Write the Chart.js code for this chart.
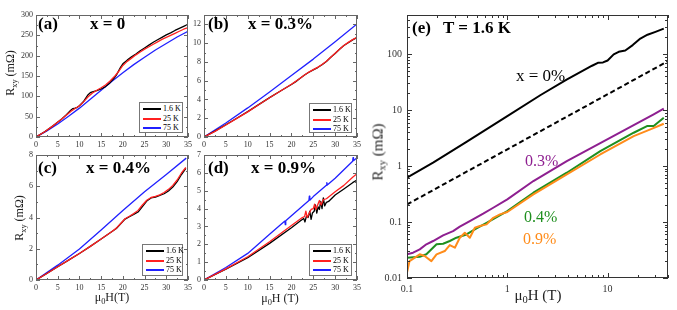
<!DOCTYPE html>
<html>
<head>
<meta charset="utf-8">
<script src="https://cdn.jsdelivr.net/npm/chart.js@4/dist/chart.umd.min.js"></script>
<style>
  body { margin: 0; width: 677px; height: 310px; position: relative; overflow: hidden; background: #fff; font-family: "Liberation Serif", serif; color: #000; }
  canvas { position: absolute; left: 0; top: 0; }
  .t { position: absolute; white-space: nowrap; line-height: 1; }
  .b { font-weight: bold; font-size: 17px; }
  .ax { position: absolute; white-space: nowrap; line-height: 1; transform: translate(-50%, -50%); font-size: 12px; color: #222; }
  .ax.big { font-size: 15px; }
  .rot { transform: translate(-50%, -50%) rotate(-90deg); }
  sub { font-size: 70%; vertical-align: -0.3em; line-height: 0; }
  .lg { position: absolute; border: 1px solid #777; background: #fff; box-sizing: border-box; }
  .lr { position: absolute; left: 3px; font-size: 8px; line-height: 1; white-space: nowrap; transform: translateY(-50%); }
  .lr i { display: inline-block; width: 18px; height: 0; border-top: 2px solid; vertical-align: middle; margin-right: 2px; }
</style>
</head>
<body>
<canvas id="ca" width="677" height="310"></canvas>
<canvas id="cb" width="677" height="310"></canvas>
<canvas id="cc" width="677" height="310"></canvas>
<canvas id="cd" width="677" height="310"></canvas>
<canvas id="ce" width="677" height="310"></canvas>

<div class="t b" style="left:38px;top:15px">(a)</div>
<div class="t b" style="left:90px;top:15px">x = 0</div>
<div class="t b" style="left:208px;top:15px">(b)</div>
<div class="t b" style="left:248px;top:15px">x = 0.3%</div>
<div class="t b" style="left:38px;top:159px">(c)</div>
<div class="t b" style="left:86px;top:159px">x = 0.4%</div>
<div class="t b" style="left:208px;top:159px">(d)</div>
<div class="t b" style="left:251px;top:159px">x = 0.9%</div>
<div class="t b" style="left:412px;top:19px">(e)</div>
<div class="t b" style="left:443px;top:19px">T = 1.6 K</div>

<div class="ax rot" style="left:10px;top:73px">R<sub>xy</sub> (mΩ)</div>
<div class="ax rot" style="left:19px;top:218px">R<sub>xy</sub> (mΩ)</div>
<div class="ax rot big" style="left:378px;top:152px">R<sub>xy</sub> (mΩ)</div>
<div class="ax" style="left:112px;top:297px">μ<sub>0</sub>H(T)</div>
<div class="ax" style="left:280px;top:298px">μ<sub>0</sub>H (T)</div>
<div class="ax big" style="left:538px;top:295px">μ<sub>0</sub>H (T)</div>

<div class="t" style="left:516px;top:67px;font-size:17px">x = 0%</div>
<div class="t" style="left:525px;top:153px;font-size:16px;color:#8e1f90">0.3%</div>
<div class="t" style="left:524px;top:209px;font-size:16px;color:#1f8f1f">0.4%</div>
<div class="t" style="left:523px;top:231px;font-size:16px;color:#ff8c1a">0.9%</div>

<script>
// ---- data ----
const fieldTicks = [0, 5, 10, 15, 20, 25, 30, 35];
const aTicks = [0, 50, 100, 150, 200, 250, 300];
const bTicks = [0, 2, 4, 6, 8, 10, 12];
const cTicks = [0, 2, 4, 6, 8];
const dTicks = [0, 1, 2, 3, 4, 5, 6, 7];
const eFieldTicks = [0.1, 1, 10];
const eRTicks = [0.01, 0.1, 1, 10, 100];

const tempLabels = ['1.6 K', '25 K', '75 K'];
const tempColors = ['#000000', '#ff2020', '#2020ff'];

// (a) x = 0, [field T, Rxy mOhm]
const a16 = [[0,0],[2,13],[4,28],[6,45],[7,55],[8,66],[8.5,70],[9,71],[9.5,73],[10,77],[11,88],[11.5,96],[12,104],[12.5,109],[13,111],[14,114],[15,118],[16,124],[17,133],[18,145],[18.5,152],[19,162],[19.5,172],[20,180],[21,189],[22,197],[23,204],[24,212],[25,219],[26,226],[27,233],[28,239],[29,245],[30,251],[31,256],[32,262],[33,267],[34,272],[35,277]];
const a25 = [[0,0],[2,13],[4,28],[6,45],[8,63],[9,70],[10,77],[11,87],[12,99],[13,108],[14,115],[15,121],[16,128],[17,137],[18,148],[19,161],[20,176],[21,186],[22,194],[23,202],[24,209],[25,216],[26,222],[27,228],[28,234],[29,240],[30,245],[31,250],[32,255],[33,260],[34,265],[35,269]];
const a75 = [[0,0],[2.5,15],[5,32],[7.5,51],[10,71],[12.5,93],[15,115],[17.5,137],[20,158],[22.5,178],[25,196],[27.5,214],[30,230],[32.5,246],[35,260]];

// (b) x = 0.3%
const b16 = [[0,0],[2.5,0.62],[5,1.3],[7.5,2.0],[10,2.7],[12.5,3.45],[15,4.2],[17.5,4.9],[20,5.6],[21,5.9],[22,6.25],[23,6.6],[24,6.9],[25,7.15],[26,7.4],[27,7.7],[28,8.05],[29,8.5],[30,8.9],[31,9.35],[32,9.75],[33,10.05],[34,10.35],[35,10.6]];
const b25 = [[0,0],[2.5,0.6],[5,1.28],[7.5,1.98],[10,2.68],[12.5,3.43],[15,4.18],[17.5,4.9],[20,5.62],[21,5.93],[22,6.27],[23,6.6],[24,6.92],[25,7.18],[26,7.42],[27,7.72],[28,8.08],[29,8.5],[30,8.92],[31,9.35],[32,9.75],[33,10.08],[34,10.38],[35,10.62]];
const b75 = [[0,0],[5,1.5],[10,3.1],[15,4.8],[20,6.55],[25,8.3],[30,10.15],[35,12.05]];

// (c) x = 0.4%
const c16 = [[0,0],[2.5,0.42],[5,0.85],[7.5,1.27],[10,1.7],[12.5,2.15],[15,2.62],[17.5,3.1],[18.5,3.3],[19.5,3.6],[20.5,3.9],[21.5,4.05],[22.5,4.2],[23.5,4.35],[24.5,4.7],[25.5,5.05],[26.5,5.25],[27.5,5.3],[28.5,5.42],[29.5,5.52],[30.5,5.7],[31.5,5.95],[32.5,6.3],[33.5,6.75],[34.5,7.15]];
const c25 = [[0,0],[2.5,0.42],[5,0.85],[7.5,1.27],[10,1.7],[12.5,2.15],[15,2.62],[17.5,3.1],[18.5,3.32],[19.5,3.62],[20.5,3.92],[21.5,4.08],[22.5,4.25],[23.5,4.45],[24.5,4.8],[25.5,5.1],[26.5,5.28],[27.5,5.35],[28.5,5.45],[29.5,5.6],[30.5,5.8],[31.5,6.05],[32.5,6.4],[33.5,6.85],[34.5,7.2]];
const c75 = [[0,0],[5,0.95],[10,1.98],[15,3.2],[20,4.45],[25,5.65],[30,6.75],[34.6,7.8]];

// (d) x = 0.9%
const d16 = [[0,0],[5,0.6],[10,1.25],[15,2.05],[20,2.93],[22,3.3],[22.8,3.45],[23.1,3.25],[23.4,3.55],[23.8,3.5],[24.2,3.85],[24.5,3.4],[24.8,3.75],[25.2,3.85],[25.5,4.2],[25.8,3.75],[26.1,4.1],[26.4,3.95],[26.7,4.4],[27,4.0],[27.3,4.6],[27.6,4.15],[28,4.35],[28.5,4.4],[30,4.76],[32,5.1],[34,5.45],[35,5.6]];
const d25 = [[0,0],[5,0.62],[10,1.3],[15,2.14],[20,3.05],[22.5,3.5],[23,3.55],[23.3,3.85],[23.6,3.5],[24,3.7],[24.5,3.95],[25,4.0],[25.3,4.25],[25.6,3.95],[26,4.2],[26.4,4.45],[26.8,4.2],[27.3,4.5],[28,4.55],[30,4.94],[32,5.3],[34,5.75],[35,5.95]];
const d75 = [[0,0],[5,0.7],[10,1.49],[15,2.56],[18.5,3.3],[18.6,3.1],[18.7,3.32],[20,3.6],[24,4.45],[24.1,4.7],[24.2,4.47],[25,4.67],[28,5.3],[28.1,5.45],[28.2,5.32],[30,5.7],[34,6.65],[34.1,6.85],[34.2,6.68],[35,6.85]];

// (e) T = 1.6 K, log-log
const e0 = [[0.1,0.62],[0.182,1.15],[0.392,2.7],[1,7.8],[2.15,18.6],[3.9,35],[7,62],[8,70],[9,71],[10,77],[11.5,99],[12.9,110],[15,116],[17.8,145],[21.2,190],[25,222],[30,250],[36.3,285]];
const e0fit = [[0.1,0.206],[40,75]];
const e03 = [[0.1,0.0265],[0.115,0.0283],[0.134,0.0325],[0.156,0.040],[0.182,0.0458],[0.229,0.0578],[0.288,0.069],[0.336,0.0826],[0.423,0.104],[0.575,0.141],[0.724,0.18],[1,0.254],[1.82,0.54],[3.92,1.23],[8.45,2.57],[12.4,3.73],[18.2,5.4],[28.8,8.4],[36.3,10.6]];
const e04 = [[0.1,0.0231],[0.134,0.024],[0.156,0.0265],[0.197,0.040],[0.229,0.041],[0.267,0.0458],[0.311,0.0525],[0.392,0.060],[0.493,0.077],[0.621,0.097],[1,0.157],[1.82,0.334],[3.92,0.76],[8.45,1.85],[18.2,3.94],[24.7,5.18],[28.8,5.2],[36.3,7.3]];
const e09 = [[0.1,0.0125],[0.106,0.020],[0.134,0.0265],[0.150,0.0247],[0.175,0.020],[0.197,0.0265],[0.238,0.0303],[0.267,0.0388],[0.30,0.0348],[0.336,0.0525],[0.377,0.0645],[0.423,0.0525],[0.475,0.0792],[0.533,0.0849],[0.621,0.0908],[0.724,0.119],[0.845,0.137],[1,0.151],[1.82,0.312],[3.92,0.71],[8.45,1.61],[18.2,3.43],[26.7,4.52],[36.3,5.7]];

// ---- drawing ----
const W = 677, H = 310;

function tickList(scale, minorStep) {
  const out = [];
  if (scale.type === 'logarithmic') {
    for (let d = Math.floor(Math.log10(scale.min)); d <= Math.ceil(Math.log10(scale.max)); d++) {
      for (let k = 1; k < 10; k++) {
        const v = k * Math.pow(10, d);
        if (v >= scale.min * 0.999 && v <= scale.max * 1.001) out.push([v, k === 1]);
      }
    }
  } else {
    for (let v = scale.min; v <= scale.max + 1e-9; v += minorStep) {
      out.push([v, scale.ticks.some(t => Math.abs(t.value - v) < 1e-6)]);
    }
  }
  return out;
}

// box frame with inward ticks on all four sides
const frame = {
  id: 'frame',
  afterDatasetsDraw(chart, args, o) {
    const { ctx, chartArea: a } = chart;
    const sx = chart.scales.x, sy = chart.scales.y;
    ctx.save();
    ctx.strokeStyle = o.color;
    ctx.lineWidth = 1;
    ctx.strokeRect(a.left + 0.5, a.top + 0.5, a.right - a.left - 1, a.bottom - a.top - 1);
    ctx.beginPath();
    for (const [v, major] of tickList(sx, o.xMinor)) {
      const p = Math.round(sx.getPixelForValue(v)) + 0.5;
      const len = major ? o.major : o.minor;
      ctx.moveTo(p, a.bottom); ctx.lineTo(p, a.bottom - len);
      ctx.moveTo(p, a.top); ctx.lineTo(p, a.top + len);
    }
    for (const [v, major] of tickList(sy, o.yMinor)) {
      const p = Math.round(sy.getPixelForValue(v)) + 0.5;
      const len = major ? o.major : o.minor;
      ctx.moveTo(a.left, p); ctx.lineTo(a.left + len, p);
      ctx.moveTo(a.right, p); ctx.lineTo(a.right - len, p);
    }
    ctx.stroke();
    ctx.restore();
  }
};

function axis(s, isX, area) {
  return {
    type: s.type || 'linear',
    min: s.min, max: s.max,
    afterBuildTicks: sc => { sc.ticks = s.ticks.map(v => ({ value: v })); },
    afterFit: sc => { if (isX) sc.height = H - area.bottom; else sc.width = area.left; },
    ticks: {
      font: { family: 'Liberation Serif', size: s.fs }, color: '#333', padding: s.pad,
      autoSkip: false, maxRotation: 0, callback: v => String(v)
    },
    grid: { display: false, drawTicks: false },
    border: { display: false }
  };
}

function makeChart(id, area, datasets, xs, ys, frameOpt) {
  new Chart(document.getElementById(id), {
    type: 'line',
    data: { datasets },
    options: {
      responsive: false, animation: false, devicePixelRatio: 1,
      layout: { padding: { left: 0, top: area.top, right: W - area.right, bottom: 0 } },
      elements: { point: { radius: 0 }, line: { tension: 0, borderJoinStyle: 'round' } },
      plugins: { legend: { display: false }, tooltip: { enabled: false }, frame: frameOpt },
      scales: { x: axis(xs, true, area), y: axis(ys, false, area) }
    },
    plugins: [frame]
  });
}

function tempSets(s16, s25, s75) {
  // red drawn on top, then black, blue at the back
  return [
    { data: s25, borderColor: tempColors[1], borderWidth: 1.3 },
    { data: s16, borderColor: tempColors[0], borderWidth: 1.3 },
    { data: s75, borderColor: tempColors[2], borderWidth: 1.3 }
  ];
}

const smallFrame = { color: '#666', major: 4, minor: 2, xMinor: 2.5 };
const smallX = { min: 0, max: 35, ticks: fieldTicks, fs: 8, pad: 3 };

makeChart('ca', { left: 36, right: 188, top: 15, bottom: 137 }, tempSets(a16, a25, a75),
  smallX, { min: 0, max: 300, ticks: aTicks, fs: 8, pad: 3 }, { ...smallFrame, yMinor: 25 });
makeChart('cb', { left: 204, right: 357, top: 15, bottom: 137 }, tempSets(b16, b25, b75),
  smallX, { min: 0, max: 13, ticks: bTicks, fs: 8, pad: 3 }, { ...smallFrame, yMinor: 1 });
makeChart('cc', { left: 36, right: 188, top: 155, bottom: 280 }, tempSets(c16, c25, c75),
  smallX, { min: 0, max: 8, ticks: cTicks, fs: 8, pad: 3 }, { ...smallFrame, yMinor: 1 });
makeChart('cd', { left: 204, right: 357, top: 155, bottom: 280 }, tempSets(d16, d25, d75),
  smallX, { min: 0, max: 7, ticks: dTicks, fs: 8, pad: 3 }, { ...smallFrame, yMinor: 0.5 });

makeChart('ce', { left: 407, right: 668, top: 15, bottom: 278 }, [
    { data: e09, borderColor: '#ff8c1a', borderWidth: 2 },
    { data: e04, borderColor: '#1f8f1f', borderWidth: 2 },
    { data: e03, borderColor: '#8e1f90', borderWidth: 2 },
    { data: e0fit, borderColor: '#000', borderWidth: 2, borderDash: [5, 3] },
    { data: e0, borderColor: '#000', borderWidth: 2 }
  ],
  { type: 'logarithmic', min: 0.1, max: 40, ticks: eFieldTicks, fs: 10, pad: 5 },
  { type: 'logarithmic', min: 0.01, max: 500, ticks: eRTicks, fs: 10, pad: 5 },
  { color: '#333', major: 5, minor: 3 });

// legends of the small panels
function legend(left, top, w, h) {
  const box = document.createElement('div');
  box.className = 'lg';
  Object.assign(box.style, { left: left + 'px', top: top + 'px', width: w + 'px', height: h + 'px' });
  tempLabels.forEach((lab, i) => {
    const r = document.createElement('div');
    r.className = 'lr';
    r.style.top = (6 + i * 9.5) + 'px';
    r.innerHTML = '<i style="border-color:' + tempColors[i] + '"></i>' + lab;
    box.appendChild(r);
  });
  document.body.appendChild(box);
}
legend(139, 102, 44, 31);
legend(309, 103, 43, 30);
legend(142, 244, 41, 32);
legend(309, 244, 43, 32);
</script>
</body>
</html>
